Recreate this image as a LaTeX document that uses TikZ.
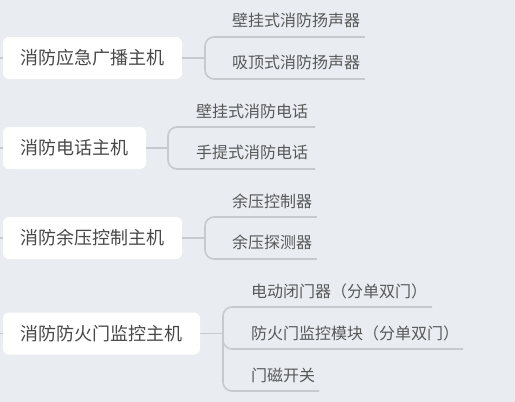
\documentclass[tikz,border=0pt]{standalone}
\usepackage{fontspec}
\setmainfont{Noto Sans CJK SC}
\definecolor{bg}{HTML}{E9EDF1}
\definecolor{ln}{HTML}{C6C9CD}
\definecolor{mtxt}{HTML}{484848}
\definecolor{ltxt}{HTML}{585858}
\begin{document}
\begin{tikzpicture}[x=1pt,y=-1pt,
  mainbox/.style={fill=white,rounded corners=6pt,minimum height=42pt,inner sep=0pt,
    text=mtxt,font=\fontsize{18}{20}\selectfont},
  leaf/.style={anchor=west,inner sep=0pt,text=ltxt,font=\fontsize{16}{18}\selectfont},
  conn/.style={draw=ln,line width=1.6pt},
  br/.style={draw=ln,line width=1.6pt,rounded corners=9pt}]
\fill[bg] (0,0) rectangle (515,402);
\useasboundingbox (0,0) rectangle (515,402);
% stubs from the left
\coordinate (s1) at (0,58);
\coordinate (s2) at (0,148);
\coordinate (s3) at (0,238);
\coordinate (s4) at (0,333.5);
\draw[conn] (s1) -- (10,58);
\draw[conn] (s2) -- (10,148);
\draw[conn] (s3) -- (10,238);
\draw[conn] (s4) -- (10,333.5);
% main nodes
\node[mainbox,minimum width=179pt] (m1) at (92.5,58) {消防应急广播主机};
\node[mainbox,minimum width=143pt] (m2) at (74.5,148) {消防电话主机};
\node[mainbox,minimum width=179pt] (m3) at (92.5,238) {消防余压控制主机};
\node[mainbox,minimum width=197pt] (m4) at (101.5,333.5) {消防防火门监控主机};
% group 1
\node[leaf] (l11) at (232,20) {壁挂式消防扬声器};
\node[leaf] (l12) at (232,62) {吸顶式消防扬声器};
\coordinate (t1) at (205,58);
\coordinate (u11) at (365,37);
\coordinate (u12) at (365,79);
\draw[conn] (m1.east) -- (t1);
\draw[br] (u11) -- (205,37) -- (205,79) -- (u12);
% group 2
\node[leaf] (l21) at (196,111) {壁挂式消防电话};
\node[leaf] (l22) at (196,152) {手提式消防电话};
\coordinate (t2) at (168,148);
\coordinate (u21) at (315,127);
\coordinate (u22) at (315,169);
\draw[conn] (m2.east) -- (t2);
\draw[br] (u21) -- (168,127) -- (168,169) -- (u22);
% group 3
\node[leaf] (l31) at (232,201) {余压控制器};
\node[leaf] (l32) at (232,242) {余压探测器};
\coordinate (t3) at (205,238);
\coordinate (u31) at (317,217);
\coordinate (u32) at (317,259);
\draw[conn] (m3.east) -- (t3);
\draw[br] (u31) -- (205,217) -- (205,259) -- (u32);
% group 4
\node[leaf] (l41) at (251,291) {电动闭门器（分单双门）};
\node[leaf] (l42) at (251,333) {防火门监控模块（分单双门）};
\node[leaf] (l43) at (251,375) {门磁开关};
\coordinate (t4) at (223,333.5);
\coordinate (u41) at (432,307);
\coordinate (u42) at (463,349);
\coordinate (u43) at (319,391);
\draw[conn] (m4.east) -- (t4);
\draw[br] (u41) -- (223,307) -- (223,391) -- (u43);
\draw[br] (223,338) -- (223,349) -- (u42);
\end{tikzpicture}
\end{document}
